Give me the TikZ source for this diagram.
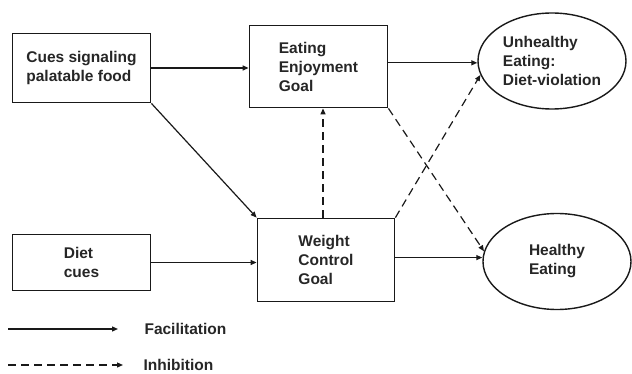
\documentclass[tikz,border=0pt]{standalone}
\usepackage{fontspec}
\setmainfont{Liberation Sans}
\usetikzlibrary{arrows.meta,shapes.geometric}

\tikzset{
    box/.style={draw=black!90, line width=1.8pt, align=left, inner sep=0pt},
    goal/.style={draw=black!90, line width=1.4pt, ellipse, align=left, inner sep=0pt,
        minimum width=148pt, minimum height=96pt},
    facil/.style={line width=1.2pt, draw=black!90, -{Triangle[length=6pt,width=5pt]}},
    inhib/.style={facil, dash pattern=on 8pt off 5pt},
    every node/.style={font=\bfseries\fontsize{15.5}{19}\selectfont, text=black!85}
}

\begin{document}
\begin{tikzpicture}[x=1pt, y=-1pt]
        \useasboundingbox (0,0) rectangle (632,374);
        % Nodes
        \draw (81.5,68)    node[box, minimum width=138pt, minimum height=69pt] (cues) {Cues signaling\\palatable food};
        \draw (318.5,66.5) node[box, minimum width=138pt, minimum height=82pt] (enjoy) {Eating\\Enjoyment\\Goal};
        \draw (81.5,262.5) node[box, minimum width=138pt, minimum height=56pt] (diet) {Diet\\cues};
        \draw (326,260)    node[box, minimum width=137pt, minimum height=83pt] (weight) {Weight\\Control\\Goal};
        \draw (552,61)     node[goal] (unhealthy) {Unhealthy\\Eating:\\Diet-violation};
        \draw (557,261.5)  node[goal] (healthy) {Healthy\\Eating};

        % Facilitation paths
        \draw[facil] (cues.east) -- (cues.east -| enjoy.west);
        \draw[facil] (enjoy.3) -- (enjoy.3 -| unhealthy.west);
        \draw[facil] (cues.south east) -- (weight.north west);
        \draw[facil] (diet.east) -- (diet.east -| weight.west);
        \draw[facil] (weight.2) -- (weight.2 -| healthy.west);

        % Inhibition paths
        \draw[inhib] ([xshift=-3pt]weight.north) -- ([xshift=4.5pt]enjoy.south);
        \draw[inhib] (enjoy.south east) -- (healthy.172);
        \draw[inhib] (weight.north east) -- (unhealthy.191);

        % Legend
        \draw (141,329) node[anchor=west] (legfac) {Facilitation};
        \draw (140,365) node[anchor=west] (leginh) {Inhibition};
        \draw[facil] ([xshift=-133pt]legfac.west) -- ([xshift=-23pt]legfac.west);
        \draw[inhib] ([xshift=-132pt]leginh.west) -- ([xshift=-17pt]leginh.west);
    \end{tikzpicture}
\end{document}
